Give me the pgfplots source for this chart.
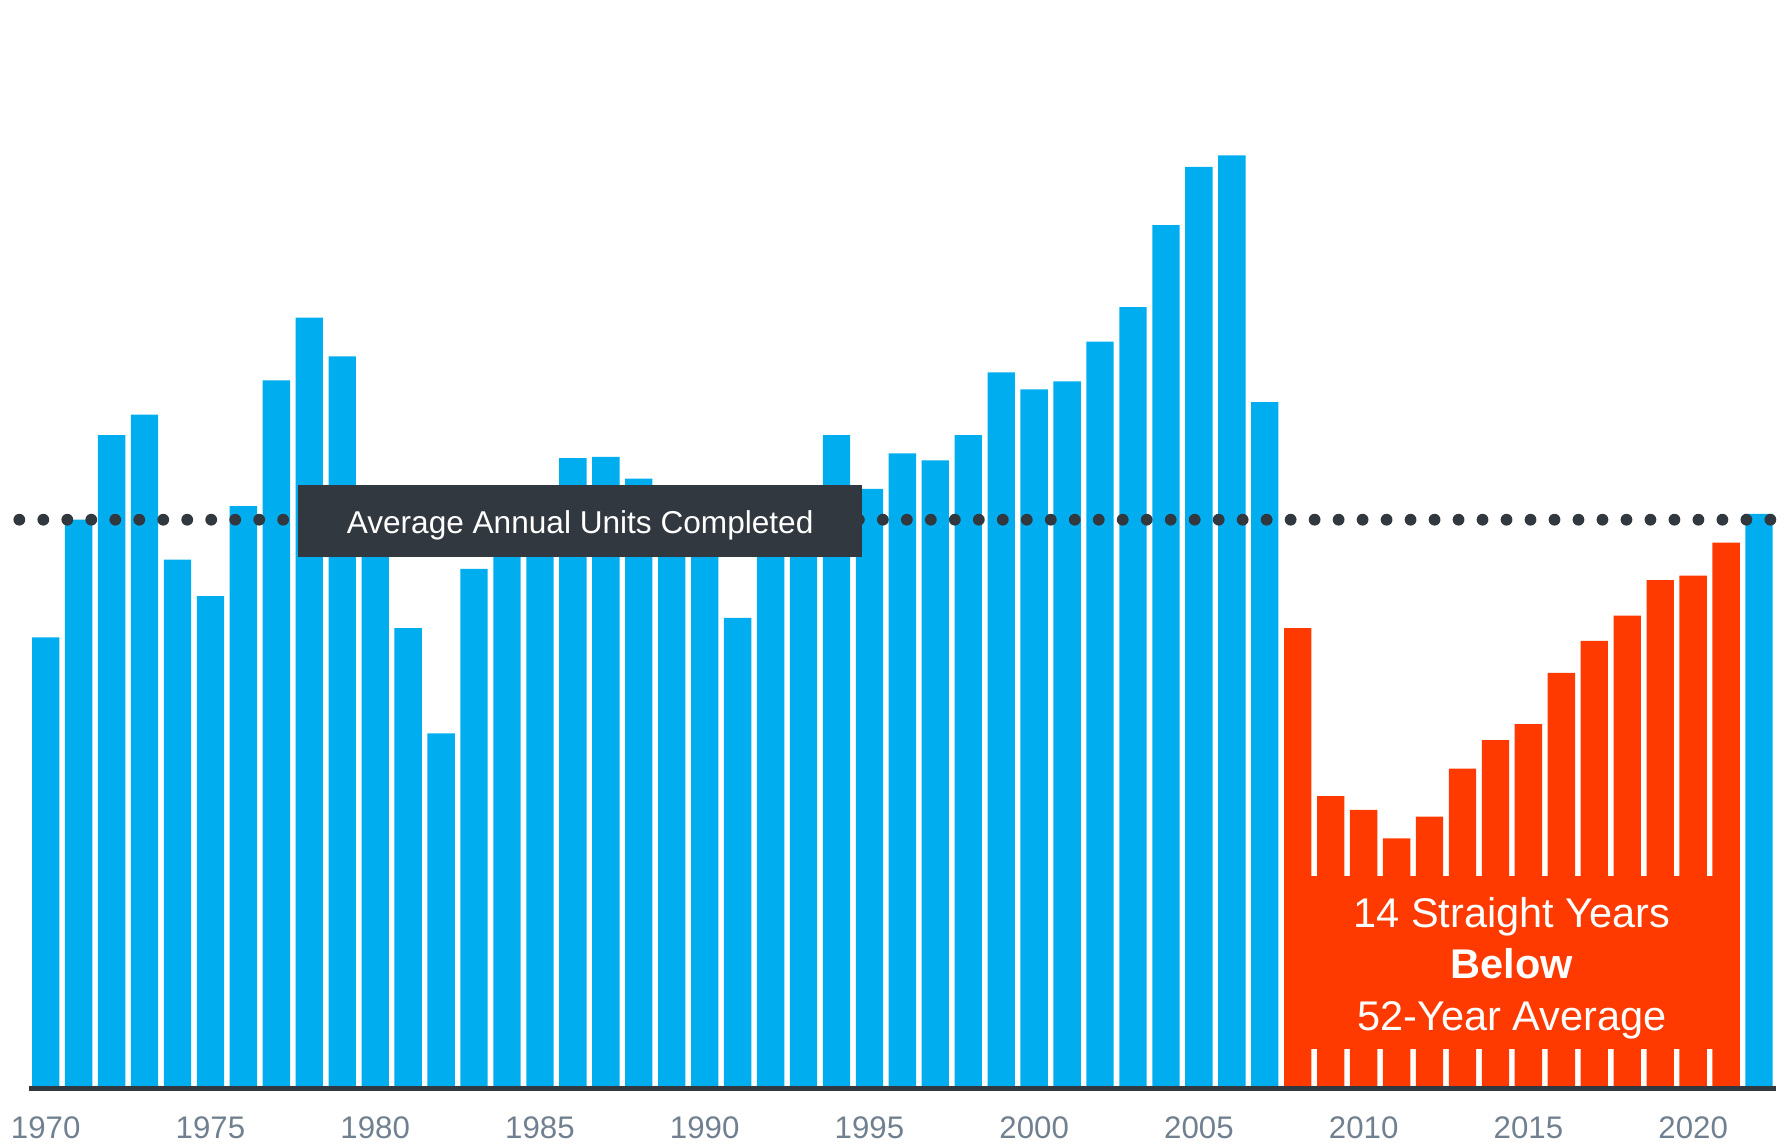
\documentclass[border=0pt]{standalone}
\usepackage{pgfplots}
\pgfplotsset{compat=1.18}
\usepackage{fontspec}
\setmainfont{Liberation Sans}
\definecolor{barblue}{RGB}{0,174,239}
\definecolor{barred}{RGB}{255,58,0}
\definecolor{darkbox}{RGB}{50,56,63}
\definecolor{labelgray}{RGB}{112,128,144}
\begin{document}
\begin{tikzpicture}
\path[use as bounding box] (-7.5pt,-14.4pt) rectangle (462.9pt,285.9pt);
\begin{axis}[
  at={(0,0)}, anchor=south west,
  scale only axis, width=459pt, height=285.9pt,
  xmin=1969.48, xmax=2022.52, ymin=0, ymax=953,
  enlargelimits=false, clip=false,
  axis y line=none, axis x line*=bottom,
  axis line style={draw=darkbox, line width=1.2pt, -},
  xtick={1970,1975,...,2020},
  major tick length=0pt, tick style={draw=none},
  /pgf/number format/1000 sep={},
  /pgf/number format/assume math mode=true,
  xticklabel style={font=\fontsize{8.2}{10}\selectfont, text=labelgray, anchor=base, yshift=-13.2pt},
  axis on top,
]
\addplot[ybar, bar width=0.83, fill=barblue, draw=none] coordinates {
(1970,395) (1971,498) (1972,572) (1973,590) (1974,463) (1975,431) (1976,510) (1977,620) (1978,675) (1979,641)
(1980,500) (1981,403) (1982,311) (1983,455) (1984,490) (1985,515) (1986,552) (1987,553) (1988,534) (1989,510)
(1990,505) (1991,412) (1992,495) (1993,505) (1994,572) (1995,525) (1996,556) (1997,550) (1998,572) (1999,627)
(2000,612) (2001,619) (2002,654) (2003,684) (2004,756) (2005,807) (2006,817) (2007,601) (2022,503)
};
\addplot[ybar, bar width=0.83, fill=barred, draw=none] coordinates {
(2008,403) (2009,256) (2010,244) (2011,219) (2012,238) (2013,280) (2014,305) (2015,319)
(2016,364) (2017,392) (2018,414) (2019,445) (2020,449) (2021,478)
};
\addplot[draw=darkbox, line width=3.1pt, line cap=round, dash pattern=on 0pt off 6.3pt] coordinates {(1969.2,498) (2022.4,498)};
\node[fill=darkbox, minimum width=148.2pt, minimum height=18.9pt, inner sep=0pt] at (axis cs:1986.22,496.5) {};
\node[text=white, inner sep=0pt, font=\fontsize{8.3}{10}\selectfont] at (axis cs:1986.22,493) {Average Annual Units Completed};
\fill[barred] (axis cs:2007.585,35) rectangle (axis cs:2021.415,186);
\node[text=white, align=center, font=\fontsize{10.9}{13.5}\selectfont] at (axis cs:2014.5,105.5)
  {14 Straight Years\\\textbf{Below}\\52-Year Average};
\end{axis}
\end{tikzpicture}
\end{document}
